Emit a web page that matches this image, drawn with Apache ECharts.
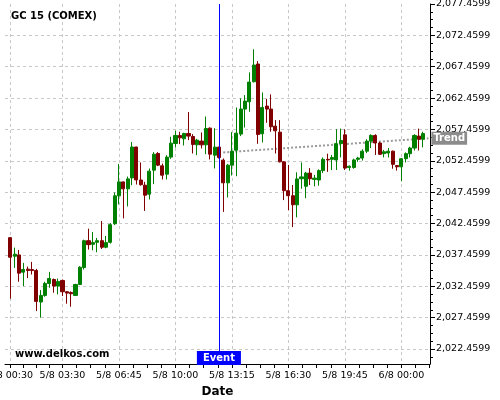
<!DOCTYPE html>
<html><head><meta charset="utf-8">
<script src="https://cdn.jsdelivr.net/npm/echarts@6/dist/echarts.min.js"></script>
<style>html,body{margin:0;padding:0;background:#fff}#c{width:500px;height:400px}</style>
</head><body><div id="c"></div>
<script>
const categories = [
'5/8 00:30','5/8 00:45','5/8 01:00','5/8 01:15','5/8 01:30','5/8 01:45','5/8 02:00','5/8 02:15','5/8 02:30','5/8 02:45',
'5/8 03:00','5/8 03:15','5/8 03:30','5/8 03:45','5/8 04:00','5/8 04:15','5/8 04:30','5/8 04:45','5/8 05:00','5/8 05:15',
'5/8 05:30','5/8 05:45','5/8 06:00','5/8 06:15','5/8 06:30','5/8 06:45','5/8 07:00','5/8 07:15','5/8 07:30','5/8 07:45',
'5/8 08:00','5/8 08:15','5/8 08:30','5/8 08:45','5/8 09:00','5/8 09:15','5/8 09:30','5/8 09:45','5/8 10:00','5/8 10:15',
'5/8 10:30','5/8 10:45','5/8 11:00','5/8 11:15','5/8 11:30','5/8 11:45','5/8 12:00','5/8 12:15','5/8 12:30','5/8 12:45',
'5/8 13:00','5/8 13:15','5/8 13:30','5/8 13:45','5/8 14:00','5/8 14:15','5/8 14:30','5/8 14:45','5/8 15:00','5/8 15:15',
'5/8 15:30','5/8 15:45','5/8 16:00','5/8 16:15','5/8 16:30','5/8 16:45','5/8 17:00','5/8 17:15','5/8 17:30','5/8 17:45',
'5/8 18:00','5/8 18:15','5/8 18:30','5/8 18:45','5/8 19:00','5/8 19:15','5/8 19:30','5/8 19:45','5/8 20:00','5/8 20:15',
'5/8 20:30','5/8 20:45','5/8 21:00','5/8 21:15','5/8 21:30','5/8 21:45','5/8 22:00','5/8 22:15','5/8 22:30','5/8 22:45',
'6/8 00:00','6/8 00:15','6/8 00:30','6/8 00:45','6/8 01:00','6/8 01:15'];
const xTickIndex = [0, 12, 25, 38, 51, 64, 77, 90];
const xMinorTicks = [0,3,6,9,12,15.25,18.5,21.75,25,28.25,31.5,34.75,38,41.25,44.5,47.75,51,54.25,57.5,60.75,64,67.25,70.5,73.75,77,80.25,83.5,86.75,90,93.25,96.5];
const yTicks = [2022.4599,2027.4599,2032.4599,2037.4599,2042.4599,2047.4599,2052.4599,2057.4599,2062.4599,2067.4599,2072.4599,2077.4599];

const openV = [
2040.21,2037.25,2037.46,2034.71,2035.19,2035.13,2034.97,2029.95,2031.00,2032.91,
2033.54,2032.49,2033.39,2031.59,2031.48,2031.00,2032.75,2035.45,2039.73,2039.15,
2039.47,2039.73,2038.68,2039.47,2042.43,2046.88,2049.10,2047.99,2049.74,2054.66,
2049.40,2048.58,2047.14,2050.97,2053.63,2051.66,2050.33,2053.05,2055.23,2056.50,
2055.97,2056.82,2056.34,2055.01,2055.60,2055.01,2057.67,2053.36,2054.64,2052.57,
2048.95,2051.77,2054.16,2056.72,2060.71,2061.87,2065.07,2067.89,2056.77,2061.18,
2060.71,2057.99,2057.03,2052.30,2047.70,2046.90,2045.45,2049.60,2048.40,2050.50,
2049.50,2049.40,2050.90,2052.70,2052.70,2052.60,2055.20,2056.60,2051.40,2051.40,
2052.70,2052.90,2054.00,2055.60,2056.50,2055.30,2053.60,2053.70,2054.00,2051.70,
2051.50,2052.80,2053.60,2054.50,2056.40,2055.90];
const closeV = [
2037.09,2037.57,2034.55,2035.13,2034.97,2034.97,2030.05,2031.00,2032.91,2033.70,
2032.49,2033.23,2031.59,2031.37,2031.27,2032.75,2035.50,2039.73,2039.10,2039.42,
2039.73,2038.68,2039.42,2042.28,2046.88,2049.10,2047.99,2049.58,2054.66,2049.42,
2048.65,2046.98,2050.81,2053.52,2051.77,2050.17,2053.05,2055.28,2056.50,2056.13,
2056.82,2056.40,2055.07,2055.76,2055.01,2057.62,2053.52,2054.64,2052.99,2048.95,
2051.77,2054.00,2056.87,2060.71,2061.98,2065.01,2067.73,2056.66,2060.97,2060.71,
2057.89,2057.25,2052.30,2047.70,2046.90,2045.45,2049.57,2049.90,2050.50,2049.60,
2049.70,2050.90,2052.70,2052.60,2053.00,2055.20,2055.70,2051.30,2051.60,2052.60,
2052.90,2054.00,2055.60,2056.50,2055.30,2053.50,2053.90,2054.00,2051.90,2051.50,
2052.80,2053.60,2054.50,2056.50,2055.90,2056.80];
const lowV = [
2030.48,2035.40,2033.18,2032.49,2033.76,2034.34,2028.52,2027.46,2030.79,2032.22,
2031.43,2031.16,2030.90,2029.68,2029.20,2030.90,2032.65,2035.13,2038.31,2038.20,
2037.88,2038.41,2038.52,2039.26,2042.22,2045.50,2043.28,2045.19,2048.57,2048.68,
2048.50,2044.48,2046.29,2048.74,2051.61,2049.48,2049.48,2052.78,2054.59,2055.12,
2054.91,2055.76,2053.63,2053.36,2054.43,2053.52,2052.67,2051.24,2052.83,2044.32,
2046.61,2050.12,2050.01,2056.40,2057.78,2060.28,2064.96,2055.17,2055.39,2058.52,
2057.09,2053.63,2052.20,2046.20,2044.60,2041.90,2043.45,2048.00,2046.50,2048.60,
2048.40,2048.50,2050.50,2050.70,2051.00,2051.00,2053.00,2051.00,2050.90,2051.20,
2052.30,2052.50,2053.70,2054.50,2053.40,2053.40,2053.00,2053.00,2051.20,2050.90,
2049.20,2052.20,2053.00,2054.10,2054.10,2054.60];
const highV = [
2040.30,2038.62,2038.25,2036.19,2035.61,2036.35,2035.24,2031.85,2033.18,2034.76,
2033.70,2033.70,2033.54,2031.70,2031.64,2032.86,2035.66,2039.89,2041.64,2041.11,
2040.16,2042.86,2040.48,2042.54,2047.41,2051.96,2049.15,2049.95,2055.45,2054.70,
2052.20,2049.11,2051.24,2053.84,2053.84,2052.03,2053.36,2056.29,2057.25,2057.09,
2056.93,2060.23,2056.72,2055.97,2056.98,2059.53,2057.78,2057.67,2054.70,2052.83,
2051.93,2057.03,2060.97,2062.41,2062.94,2066.56,2070.23,2068.36,2063.36,2062.35,
2063.05,2058.95,2058.95,2052.40,2051.80,2048.60,2050.63,2052.20,2050.70,2051.30,
2050.20,2051.10,2053.00,2053.60,2053.40,2057.50,2057.60,2057.50,2051.70,2052.80,
2053.10,2054.30,2055.90,2056.70,2056.70,2055.50,2054.20,2054.50,2054.10,2051.80,
2052.90,2053.80,2054.70,2056.70,2057.60,2057.10];

const eventIndex = 48;
const eventText = 'Event';
const trendPoints = [[49, 2053.8], [96.2, 2056.05]];
const trendText = 'Trend';
const titleText = 'GC 15 (COMEX)';
const siteText = 'www.delkos.com';

const xMin = -1.22, xMax = 96.57;
const yMin = 2020.07, yMax = 2077.4599;
const GRID = {left: 5, right: 70, top: 4, bottom: 36};
const GW = 500 - GRID.left - GRID.right, GH = 400 - GRID.top - GRID.bottom;

const yMinor = [];
yTicks.forEach(t => { [1.25, 2.5, 3.75].forEach(d => { if (t - d >= yMin) yMinor.push(+(t - d).toFixed(4)); }); });

const candles = openV.map((o, i) => [i, o, closeV[i], lowV[i], highV[i]]);
const fmtY = v => Number(v).toLocaleString('en-US', {minimumFractionDigits: 4, maximumFractionDigits: 4});
const FONT = 'DejaVu Sans';

const chart = echarts.init(document.getElementById('c'), null, {renderer: 'canvas'});
chart.setOption({
  animation: false,
  textStyle: {fontFamily: FONT},
  grid: Object.assign({outerBoundsMode: 'none', containLabel: false}, GRID),
  title: {text: titleText, left: 11, top: 11, padding: 0,
    textStyle: {fontFamily: FONT, fontSize: 10, fontWeight: 'bold', color: '#000'}},
  graphic: [{type: 'text', left: 15, top: 349, z: 100,
    style: {text: siteText, font: 'bold 10px "DejaVu Sans"', fill: '#000'}}],
  xAxis: [{
    type: 'value', min: xMin, max: xMax, position: 'bottom',
    name: 'Date', nameLocation: 'middle', nameGap: 20,
    nameTextStyle: {fontFamily: FONT, fontSize: 12, fontWeight: 'bold', color: '#000'},
    axisLine: {show: true, onZero: false, lineStyle: {color: '#000', width: 1}},
    axisTick: {show: true, customValues: xTickIndex, length: 4, lineStyle: {color: '#000'}},
    axisLabel: {customValues: xTickIndex, formatter: v => categories[Math.round(v)],
      fontFamily: FONT, fontSize: 9.5, color: '#000', margin: 7, hideOverlap: false},
    splitLine: {show: true, lineStyle: {color: '#c8c8c8', type: [3, 3]}}
  }, {
    type: 'value', min: xMin, max: xMax, position: 'top', offset: -GH,
    axisLine: {show: false}, axisLabel: {show: false}, splitLine: {show: false},
    axisTick: {show: true, inside: true, customValues: xMinorTicks, length: 4, lineStyle: {color: '#000'}}
  }],
  yAxis: [{
    type: 'value', position: 'right', min: yMin, max: yMax,
    axisLine: {show: true, onZero: false, lineStyle: {color: '#000', width: 1}},
    axisTick: {show: true, customValues: yTicks, length: 5, lineStyle: {color: '#000'}},
    axisLabel: {customValues: yTicks, formatter: fmtY, fontFamily: FONT, fontSize: 9.5, color: '#000', margin: 6},
    splitLine: {show: true, showMaxLine: false, lineStyle: {color: '#c8c8c8', type: [3, 3]}}
  }, {
    type: 'value', position: 'left', offset: -GW, min: yMin, max: yMax,
    axisLine: {show: false}, axisLabel: {show: false}, splitLine: {show: false},
    axisTick: {show: true, inside: true, customValues: yMinor, length: 3, lineStyle: {color: '#000'}}
  }],
  series: [{
    type: 'line', xAxisIndex: 0, yAxisIndex: 0, data: trendPoints, symbol: 'none', silent: true, z: 1,
    lineStyle: {color: '#9a9a9a', width: 2, type: [2, 2]},
    endLabel: {show: true, formatter: trendText, color: '#fff', fontWeight: 'bold', fontSize: 10,
      fontFamily: FONT, backgroundColor: '#8c8c8c', padding: [2, 2, 1, 2], distance: 3}
  }, {
    type: 'candlestick', xAxisIndex: 0, yAxisIndex: 0, z: 2,
    dimensions: ['idx', 'open', 'close', 'lowest', 'highest'],
    encode: {x: 'idx', y: ['open', 'close', 'lowest', 'highest']},
    data: candles, barWidth: 3.6,
    itemStyle: {color: '#008000', color0: '#800000', borderColor: '#008000', borderColor0: '#800000', borderWidth: 1},
    markLine: {
      silent: true, symbol: ['none', 'none'],
      lineStyle: {color: '#0000ff', width: 1, type: 'solid'},
      label: {show: true, position: 'start', formatter: eventText, color: '#fff', backgroundColor: '#0000ff',
        fontWeight: 'bold', fontSize: 10, fontFamily: FONT, padding: [1, 6], lineHeight: 12, distance: -13},
      data: [{xAxis: eventIndex}]
    }
  }]
});
</script></body></html>
